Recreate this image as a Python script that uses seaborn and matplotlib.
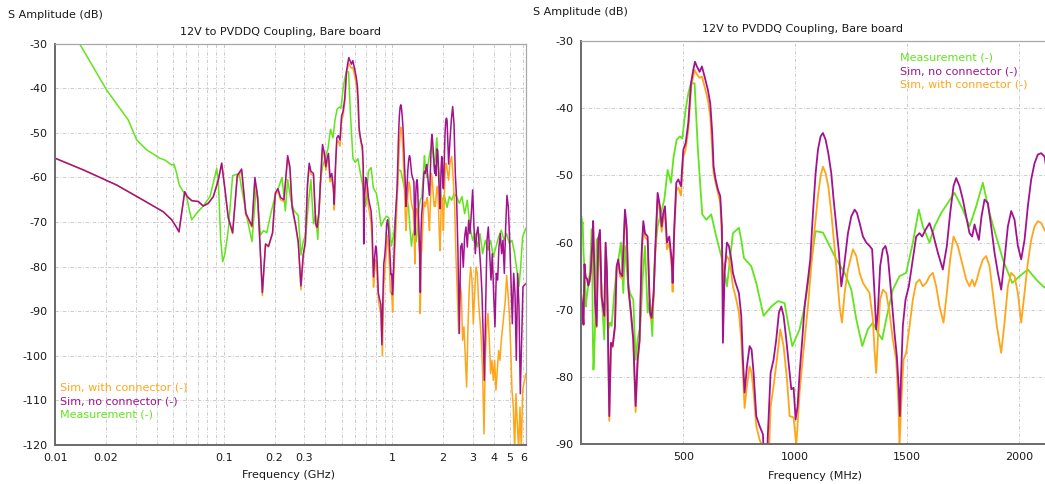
import numpy as np
import pandas as pd
import matplotlib
matplotlib.use("Agg")
import matplotlib.pyplot as plt
from matplotlib.lines import Line2D
from matplotlib.ticker import FixedLocator, NullFormatter
import seaborn as sns

# ---- measured / simulated coupling, frequency in MHz, amplitude in dB ----
meas_freq_mhz = [
    10, 13.88, 20.18, 27.10, 30.41, 34.85, 41.81, 44.77, 49.09, 50.64, 52.55, 54.47,
    57.49, 60.23, 62.42, 64.49, 69.08, 75.55, 82.79, 90.77, 92.77, 95.85, 98.51,
    101.7, 106.3, 112.8, 123.2, 129.1, 138.1, 147.0, 155.9, 165.1, 172.3, 179.8,
    191.7, 202.1, 212.5, 221.5, 231.9, 239.4, 251.3, 261.7, 276.6, 287.0, 296.0,
    307.9, 318.3, 328.7, 340.6, 351.1, 361.5, 373.4, 385.3, 400.2, 415.1, 430.0,
    444.9, 456.8, 470.2, 485.1, 495.5, 510.4, 522.3, 534.3, 550.3, 565.2, 584.6,
    602.5, 624.8, 647.2, 669.5, 684.4, 694.8, 706.7, 721.6, 748.4, 758.9, 770.8,
    803.5, 825.9, 858.6, 892.9, 922.7, 952.5, 967.4, 986.7, 1019.5, 1041.8, 1064.2,
    1091.0, 1123.8, 1153.5, 1183.3, 1220.6, 1250.4, 1272.7, 1299.5, 1324.2, 1346.6,
    1368.9, 1388.3, 1406.2, 1435.9, 1465.7, 1495.5, 1525.3, 1552.1, 1570.0, 1599.8,
    1622.1, 1651.9, 1681.7, 1711.5, 1748.7, 1778.5, 1808.3, 1838.1, 1867.9, 1897.7,
    1927.4, 1969.1, 2001.9, 2039.1, 2076.4, 2113.6, 2180, 2251, 2324, 2410, 2499,
    2592, 2688, 2788, 2891, 2999, 3096, 3197, 3315, 3438, 3566, 3698, 3835, 3977,
    4124, 4277, 4436, 4602, 4773, 4950, 5133, 5324, 5521, 5648, 5778, 5938, 6200,
]
meas_db = [
    -21.0, -29.9, -40.4, -47.1, -51.6, -53.8, -55.7, -56.1, -57.2, -57.0, -59.1, -61.7,
    -63.2, -64.3, -67.3, -69.5, -68.0, -66.4, -64.3, -58.0, -60.6, -74.0, -78.9,
    -77.0, -71.8, -59.6, -59.1, -63.5, -69.5, -74.4, -62.0, -72.9, -71.9, -72.4,
    -67.5, -64.0, -62.0, -60.0, -67.5, -60.5, -65.5, -67.5, -68.5, -77.4, -74.4,
    -72.4, -65.5, -60.5, -70.4, -68.5, -73.9, -61.5, -57.6, -55.6, -53.6, -49.2,
    -51.1, -47.2, -44.7, -44.2, -44.5, -40.2, -37.8, -36.3, -36.3, -46.2, -55.8,
    -56.6, -55.8, -59.1, -62.0, -64.5, -66.5, -63.0, -58.6, -57.8, -59.6, -62.3,
    -63.5, -66.0, -70.9, -69.5, -68.7, -69.0, -71.9, -75.4, -72.9, -69.5, -64.5,
    -58.3, -58.5, -60.5, -62.5, -64.5, -67.0, -71.4, -75.4, -72.9, -71.9,
    -73.4, -74.4, -71.4, -67.0, -65.0, -64.5, -60.0, -55.1, -57.6, -60.0,
    -57.6, -55.6, -54.1, -52.6, -55.1, -57.6, -54.6, -51.1, -55.6, -59.1,
    -62.5, -66.0, -65.0, -64.0, -65.5, -66.7, -64.3, -65.1, -63.6, -64.3, -65.8,
    -64.3, -68.1, -65.1, -71.1, -74.1, -72.6, -75.6, -72.6, -77.1, -74.1, -76.3, -74.1, -77.8,
    -75.6, -73.3, -71.8, -74.1, -72.6, -74.8, -74.1, -77.1, -81.5, -84.5, -80.1, -73.3, -71.4,
]

nocon_freq_mhz = [
    10, 14.66, 23.14, 33.29, 43.75, 49.09, 52.03, 54.20, 56.24, 58.61, 60.73, 64.49,
    70.58, 75.55, 80.91, 86.62, 92.77, 97.16, 101.7, 106.3, 112.8, 120.2, 127.6,
    135.1, 147.0, 153.0, 159.0, 169.4, 176.8, 184.3, 194.7, 202.1, 209.6, 217.0,
    227.4, 239.4, 246.8, 254.3, 266.2, 276.6, 287.0, 296.0, 304.9, 313.8, 321.3,
    328.8, 340.6, 351.1, 358.5, 367.4, 376.4, 385.3, 395.7, 403.2, 410.6, 418.1,
    427.0, 437.4, 447.9, 452.3, 459.8, 468.7, 477.7, 489.6, 500.0, 510.4, 522.3,
    534.3, 544.7, 552.1, 560.8, 572.7, 583.1, 595.0, 609.9, 620.3, 629.3, 635.2,
    644.2, 654.6, 665.0, 672.5, 676.9, 684.4, 694.8, 703.7, 714.2, 721.6, 733.5,
    748.4, 758.9, 766.3, 773.8, 784.2, 796.1, 805.0, 814.0, 825.9, 840.8, 855.7,
    867.6, 878.0, 889.9, 903.3, 915.2, 927.2, 937.6, 948.0, 959.9, 971.8, 982.3,
    992.7, 1001.6, 1010.6, 1019.5, 1031.4, 1041.8, 1056.7, 1067.2, 1079.1, 1091.0,
    1101.4, 1113.3, 1123.8, 1135.7, 1147.6, 1161.0, 1171.4, 1183.3, 1195.3, 1205.7,
    1214.6, 1225.0, 1235.5, 1250.4, 1265.3, 1275.7, 1287.6, 1302.5, 1317.4, 1332.3,
    1343.6, 1354.0, 1361.5, 1368.9, 1379.3, 1391.3, 1403.2, 1413.6, 1428.5, 1443.4,
    1453.8, 1462.7, 1467.2, 1473.2, 1480.6, 1492.5, 1507.4, 1525.3, 1540.2, 1555.1,
    1567.0, 1581.9, 1599.8, 1614.7, 1637.0, 1659.4, 1677.2, 1692.1, 1707.0, 1718.9,
    1733.8, 1748.7, 1763.6, 1778.5, 1790.4, 1800.8, 1811.3, 1820.2, 1832.1, 1845.5,
    1860.4, 1875.3, 1890.2, 1905.1, 1920.0, 1934.9, 1949.8, 1964.7, 1979.6, 1994.5,
    2009.4, 2024.3, 2039.1, 2054.0, 2068.9, 2083.8, 2098.7, 2113.6, 2160, 2200,
    2241, 2282, 2324, 2366, 2410, 2454, 2499, 2545, 2592, 2639, 2688, 2737, 2788,
    2839, 2891, 2944, 2999, 3054, 3110, 3168, 3226, 3285, 3346, 3407, 3470, 3518,
    3582, 3649, 3715, 3783, 3853, 3923, 3995, 4068, 4143, 4219, 4296, 4376, 4456,
    4539, 4623, 4708, 4794, 4883, 4972, 5064, 5157, 5252, 5349, 5447, 5546, 5648,
    5752, 5858, 5965, 6200,
]
nocon_db = [
    -55.7, -58.3, -61.7, -65.1, -67.7, -69.5, -71.0, -72.2, -68.0, -63.2, -64.3, -65.2,
    -65.4, -66.4, -65.8, -64.3, -60.6, -56.8, -62.8, -69.0, -72.4, -59.6, -58.1,
    -68.0, -70.9, -60.0, -64.5, -85.8, -74.9, -75.4, -72.4, -63.5, -62.5, -64.5,
    -65.0, -55.1, -57.6, -66.5, -70.4, -74.4, -84.3, -77.4, -74.4, -61.5, -56.8,
    -58.6, -59.1, -70.4, -71.2, -67.5, -59.6, -52.6, -54.6, -57.6, -55.6, -54.6,
    -60.0, -59.1, -62.5, -66.0, -57.6, -51.1, -50.6, -51.6, -46.2, -45.2, -42.2,
    -36.3, -34.3, -33.1, -33.8, -34.6, -33.8, -35.3, -37.3, -39.3, -43.7, -48.7,
    -50.6, -52.1, -53.1, -57.6, -74.9, -64.5, -60.0, -60.5, -62.5, -64.5, -66.0,
    -67.5, -70.9, -77.4, -82.3, -78.4, -75.4, -75.9, -79.4, -85.8, -87.3, -88.5,
    -97.5, -88.3, -79.4, -77.4, -74.4, -70.4, -69.5, -70.9, -74.4, -78.4, -81.8,
    -81.6, -86.3, -84.3, -79.4, -74.4, -69.5, -65.5, -62.5, -55.6, -49.7,
    -46.2, -44.2, -43.7, -44.7, -46.7, -49.7, -53.6, -57.6, -61.5, -66.5,
    -64.5, -61.5, -58.6, -56.1, -55.1, -55.6, -57.1, -59.1, -60.0, -60.5,
    -61.0, -67.5, -72.9, -70.4, -63.5, -61.0, -60.5, -62.0, -67.5, -73.4,
    -76.9, -81.8, -85.8, -79.4, -72.4, -68.5, -66.5, -62.5, -59.1, -58.6,
    -59.1, -58.1, -57.1, -58.6, -61.5, -64.0, -60.5, -55.6, -51.6, -50.4,
    -51.6, -53.6, -56.1, -58.6, -59.1, -57.3, -58.6, -59.6, -56.1, -53.6,
    -54.1, -57.6, -61.5, -64.5, -67.0, -62.5, -57.6, -55.3, -56.6, -60.5,
    -62.5, -59.6, -54.6, -50.6, -48.2, -46.9, -46.7, -47.2, -57.0, -51.6,
    -47.1, -44.1, -47.9, -59.1, -65.1, -77.1, -95.0, -75.6, -74.8, -80.1, -73.3, -71.1, -75.6,
    -69.6, -72.6, -68.1, -62.8, -71.1, -77.1, -72.6, -71.1, -75.6, -80.1, -86.0, -96.5, -105.5,
    -89.0, -74.1, -71.1, -77.1, -83.0, -77.1, -86.0, -93.5, -81.5, -83.0, -75.6, -72.6, -77.1,
    -74.1, -81.5, -71.1, -64.0, -66.6, -74.1, -83.0, -92.8, -81.5, -86.0, -101.0, -81.5, -89.0,
    -108.5, -96.5, -84.5, -83.8,
]

con_freq_mhz = [
    10, 14.66, 23.14, 33.29, 43.75, 49.09, 52.03, 54.20, 56.24, 58.61, 60.73, 64.49,
    70.58, 75.55, 80.91, 86.62, 92.77, 97.16, 101.7, 106.3, 112.8, 120.2, 127.6,
    135.1, 147.0, 153.0, 159.0, 169.4, 176.8, 184.3, 194.7, 202.1, 209.6, 217.0,
    227.4, 239.4, 246.8, 254.3, 266.2, 276.6, 287.0, 296.0, 304.9, 313.8, 321.3,
    328.8, 340.6, 351.1, 358.5, 367.4, 376.4, 385.3, 395.7, 403.2, 410.6, 418.1,
    427.0, 437.4, 447.9, 452.3, 459.8, 468.7, 477.7, 489.6, 500.0, 510.4, 522.3,
    535.4, 550.3, 560.8, 572.7, 583.1, 595.0, 609.9, 620.3, 629.3, 635.2, 644.2,
    654.6, 665.0, 672.5, 676.9, 684.4, 694.8, 703.7, 714.2, 721.6, 733.5, 748.4,
    758.9, 766.3, 773.8, 784.2, 796.1, 805.0, 814.0, 825.9, 840.8, 855.7, 873.5,
    890.0, 903.3, 918.2, 933.1, 948.0, 962.9, 974.8, 992.7, 1004.6, 1019.5, 1034.4,
    1056.7, 1079.1, 1101.4, 1113.3, 1123.8, 1135.7, 1147.6, 1161.0, 1183.3, 1198.2,
    1208.7, 1220.6, 1235.5, 1257.8, 1272.7, 1287.6, 1302.5, 1331.7, 1346.6, 1354.0,
    1361.5, 1368.9, 1379.3, 1391.3, 1406.2, 1421.0, 1435.9, 1450.8, 1461.3, 1465.7,
    1473.2, 1483.6, 1495.5, 1510.4, 1525.3, 1540.2, 1555.1, 1570.0, 1584.9, 1599.8,
    1614.7, 1629.6, 1644.5, 1662.3, 1677.2, 1692.1, 1707.0, 1726.4, 1748.7, 1763.6,
    1778.5, 1790.4, 1800.8, 1811.3, 1823.2, 1838.1, 1853.0, 1867.9, 1882.8, 1900.6,
    1920.0, 1934.9, 1949.8, 1964.7, 1979.6, 1994.5, 2009.4, 2024.3, 2039.1, 2054.0,
    2068.9, 2083.8, 2098.7, 2113.6, 2160, 2200, 2251, 2303, 2345, 2388, 2432, 2477,
    2522, 2568, 2615, 2663, 2712, 2762, 2813, 2865, 2918, 2972, 3026, 3082, 3139,
    3197, 3255, 3315, 3376, 3438, 3502, 3566, 3632, 3698, 3766, 3835, 3905, 3977,
    4050, 4124, 4200, 4277, 4356, 4436, 4519, 4602, 4686, 4773, 4860, 4950, 5041,
    5133, 5228, 5324, 5422, 5521, 5623, 5726, 5831, 5938, 6200,
]
con_db = [
    -55.7, -58.3, -61.7, -65.1, -67.7, -69.5, -71.0, -72.2, -68.0, -63.2, -64.3, -65.2,
    -65.4, -66.4, -65.8, -64.3, -60.6, -56.8, -62.8, -69.0, -72.6, -60.0, -58.6,
    -68.5, -71.2, -60.5, -64.8, -86.5, -75.2, -75.6, -72.6, -64.0, -63.0, -65.0,
    -65.4, -55.8, -58.2, -67.0, -70.8, -74.8, -85.2, -77.8, -74.8, -62.2, -57.5,
    -59.2, -59.6, -70.8, -71.6, -68.0, -60.4, -53.6, -55.4, -58.4, -56.6, -55.6,
    -61.0, -60.0, -63.5, -67.3, -58.6, -52.2, -51.8, -53.0, -47.2, -46.2, -43.2,
    -36.8, -34.3, -35.0, -35.5, -35.3, -36.8, -38.8, -41.2, -46.2, -49.7, -51.1,
    -52.6, -54.1, -59.6, -66.5, -63.5, -62.0, -62.5, -64.5, -66.5, -68.0, -70.4,
    -74.4, -79.4, -84.6, -81.3, -78.4, -79.4, -82.3, -87.3, -89.3, -90.5, -100.0,
    -84.4, -81.3, -77.4, -72.9, -75.4, -80.3, -85.8, -86.0, -90.2, -82.3, -76.9,
    -69.5, -60.5, -53.1, -50.1, -48.7, -49.7, -51.6, -55.6, -63.5, -69.5,
    -71.9, -67.5, -64.0, -61.0, -62.0, -64.5, -66.0, -67.5, -71.4, -75.9,
    -79.4, -74.4, -68.5, -67.0, -67.5, -70.4, -74.4, -77.4, -84.3, -90.5,
    -84.3, -77.4, -76.4, -72.4, -68.5, -66.0, -65.5, -66.5, -66.0, -65.0,
    -64.5, -66.5, -69.5, -71.9, -67.5, -62.5, -59.1, -60.5, -63.5, -65.5,
    -66.5, -65.5, -66.5, -65.5, -64.0, -62.5, -62.0, -63.5, -67.5, -72.4,
    -76.4, -71.9, -66.5, -64.5, -65.0, -67.5, -71.9, -67.5, -63.0, -59.6,
    -57.6, -56.8, -57.1, -58.1, -60.6, -56.8, -55.3, -60.6, -66.6, -77.8, -86.0, -95.0,
    -83.8, -86.0, -96.5, -93.5, -100.3, -107.0, -93.5, -84.5, -80.1, -83.0, -92.8, -86.0, -80.1,
    -81.5, -88.3, -92.0, -96.5, -104.0, -117.5, -100.3, -93.5, -90.5, -96.5, -104.0, -101.0, -105.5,
    -101.0, -107.7, -103.2, -98.8, -101.0, -96.5, -93.5, -90.5, -87.5, -82.0, -86.0, -90.5, -98.0,
    -107.7, -111.5, -121.0, -108.5, -115.2, -121.0, -111.5, -121.0, -107.7, -104.0,
]

series_names = ["Measurement (-)", "Sim, no connector (-)", "Sim, with connector (-)"]
series_colors = {
    "Measurement (-)": "#62e41c",
    "Sim, no connector (-)": "#a3128e",
    "Sim, with connector (-)": "#ffa51a",
}

left_yticks = [-30, -40, -50, -60, -70, -80, -90, -100, -110, -120]
right_yticks = [-30, -40, -50, -60, -70, -80, -90]
left_xticks_ghz = [0.01, 0.02, 0.1, 0.2, 0.3, 1, 2, 3, 4, 5, 6]
left_xticklabels = ["0.01", "0.02", "0.1", "0.2", "0.3", "1", "2", "3", "4", "5", "6"]
right_xticks_mhz = [500, 1000, 1500, 2000]

frames = []
for name, fr, db in [
    (series_names[0], meas_freq_mhz, meas_db),
    (series_names[1], nocon_freq_mhz, nocon_db),
    (series_names[2], con_freq_mhz, con_db),
]:
    frames.append(pd.DataFrame({"freq_mhz": fr, "db": db, "series": name}))
df = pd.concat(frames, ignore_index=True)
df["freq_ghz"] = df["freq_mhz"] / 1000.0

sns.set_style("white")
plt.rcParams["font.family"] = ["DejaVu Sans"]
plt.rcParams["axes.unicode_minus"] = False

W, H = 1045, 484
fig = plt.figure(figsize=(W / 100, H / 100), dpi=100)

def px_axes(x0, y0, x1, y1):
    return fig.add_axes([x0 / W, 1 - y1 / H, (x1 - x0) / W, (y1 - y0) / H])

ax_l = px_axes(55.3, 43.7, 525.8, 445.0)
ax_r = px_axes(581.0, 40.9, 1050.0, 444.3)

FS = 8.0
TXT = "#1a1a1a"
GRID = dict(color="#c4c4c4", linestyle=(0, (4, 2, 1, 2)), linewidth=0.6)
draw_order = ["Measurement (-)", "Sim, with connector (-)", "Sim, no connector (-)"]

# ---- left: log frequency axis in GHz ----
ax_l.set_xscale("log")
for name in draw_order:
    sub = df[df["series"] == name]
    sns.lineplot(data=sub, x="freq_ghz", y="db", ax=ax_l, color=series_colors[name],
                 linewidth=1.1, estimator=None, sort=False, legend=False)
ax_l.set_xlim(0.01, 6.2)
ax_l.set_ylim(-120, -30)
ax_l.set_xticks(left_xticks_ghz)
ax_l.set_xticklabels(left_xticklabels)
minor = [m * d for d in (0.01, 0.1, 1) for m in range(2, 10) if m * d <= 6.2]
ax_l.xaxis.set_minor_locator(FixedLocator(minor))
ax_l.xaxis.set_minor_formatter(NullFormatter())
ax_l.set_yticks(left_yticks)
ax_l.grid(True, which="both", axis="x", **GRID)
ax_l.grid(True, which="major", axis="y", **GRID)
ax_l.tick_params(axis="x", which="minor", length=0)

# ---- right: linear frequency axis in MHz ----
for name in draw_order:
    sub = df[df["series"] == name]
    sns.lineplot(data=sub, x="freq_mhz", y="db", ax=ax_r, color=series_colors[name],
                 linewidth=1.3, estimator=None, sort=False, legend=False)
ax_r.set_xlim(43, 2138)
ax_r.set_ylim(-90, -30)
ax_r.set_xticks(right_xticks_mhz)
ax_r.set_yticks(right_yticks)
ax_r.grid(True, which="major", **GRID)

for ax in (ax_l, ax_r):
    ax.set_xlabel("")
    ax.set_ylabel("")
    ax.set_axisbelow(True)
    ax.tick_params(axis="both", which="major", direction="out", length=3.5, width=0.8,
                   color="#707070", labelsize=FS, labelcolor=TXT, pad=2)
    for s in ("left", "bottom"):
        ax.spines[s].set_color("#6a6a6a")
        ax.spines[s].set_linewidth(1.4)
    for s in ("top", "right"):
        ax.spines[s].set_color("#a8a8a8")
        ax.spines[s].set_linewidth(0.9)
ax_r.spines["right"].set_visible(False)

# ---- titles and axis captions ----
fig.text(8 / W, 1 - 15 / H, "S Amplitude (dB)", fontsize=FS, color=TXT, ha="left", va="center")
fig.text(533 / W, 1 - 12 / H, "S Amplitude (dB)", fontsize=FS, color=TXT, ha="left", va="center")
fig.text(280 / W, 1 - 32 / H, "12V to PVDDQ Coupling, Bare board", fontsize=FS, color=TXT,
         ha="center", va="center")
fig.text(803 / W, 1 - 29 / H, "12V to PVDDQ Coupling, Bare board", fontsize=FS, color=TXT,
         ha="center", va="center")
fig.text(289 / W, 1 - 475 / H, "Frequency (GHz)", fontsize=FS, color=TXT, ha="center", va="center")
fig.text(815 / W, 1 - 476 / H, "Frequency (MHz)", fontsize=FS, color=TXT, ha="center", va="center")

# ---- text-only legends ----
def text_legend(ax, names, x_px, y_px):
    handles = [Line2D([], [], color=series_colors[n], label=n) for n in names]
    leg = ax.legend(handles=handles, loc="upper left", bbox_to_anchor=(x_px / W, 1 - y_px / H),
                    bbox_transform=fig.transFigure, frameon=False, handlelength=0,
                    handletextpad=0, borderaxespad=0, borderpad=0, labelspacing=0.3,
                    fontsize=FS, labelcolor="linecolor")
    for h in leg.legend_handles:
        h.set_visible(False)

text_legend(ax_l, ["Sim, with connector (-)", "Sim, no connector (-)", "Measurement (-)"], 60, 383)
text_legend(ax_r, ["Measurement (-)", "Sim, no connector (-)", "Sim, with connector (-)"], 900, 53)

fig.savefig("out.png", dpi=100)
